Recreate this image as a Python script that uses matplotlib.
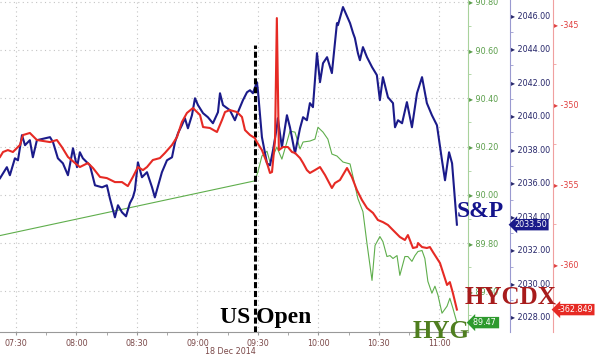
import matplotlib
matplotlib.use("Agg")
import matplotlib.pyplot as plt
from matplotlib.ticker import MultipleLocator, FuncFormatter
import matplotlib.transforms as mtransforms

# minutes after 07:30 on 18 Dec 2014
spx_t = [-7.9, -4.5, -3.0, -0.5, 1.0, 3.0, 4.5, 6.9, 8.4, 10.4,
         16.9, 18.4, 20.8, 23.3, 25.8, 28.3, 30.3, 31.7, 33.2, 36.7,
         39.2, 42.7, 45.1, 46.6, 49.1, 50.6, 52.6, 54.6, 56.5, 58.0,
         59.0, 60.5, 62.5, 65.0, 67.5, 68.9, 72.4, 74.9, 77.4, 78.9,
         80.4, 82.3, 83.8, 85.3, 87.3, 88.8, 90.3, 92.8, 95.2, 97.7,
         100.2, 101.2, 102.7, 106.1, 108.6, 110.1, 112.6, 114.6, 116.1, 117.5,
         119.5, 120.0, 122.0, 124.5, 126.0, 127.5, 129.4, 129.9, 131.9, 134.4,
         135.9, 138.4, 140.9, 142.4, 144.3, 145.8, 147.3, 149.3, 150.8, 152.3,
         154.3, 156.7, 159.2, 159.7, 162.2, 165.7, 167.2, 168.1, 169.6, 170.6,
         172.1, 174.1, 176.6, 179.0, 180.5, 182.0, 184.5, 187.0, 188.0, 189.5,
         191.5, 193.9, 196.4, 198.9, 201.4, 203.8, 206.3, 208.8, 211.3, 212.8,
         214.8, 216.3, 218.7]
spx_v = [2036.27, 2036.93, 2036.45, 2037.46, 2037.34, 2038.84, 2038.24, 2038.54, 2037.52, 2038.54,
         2038.72, 2038.42, 2037.46, 2037.16, 2036.45, 2038.06, 2036.93, 2037.82, 2037.46, 2037.04,
         2035.85, 2035.73, 2035.85, 2035.07, 2033.94, 2034.66, 2034.24, 2034.00, 2034.78, 2035.13,
         2035.55, 2037.22, 2036.33, 2036.63, 2035.73, 2035.13, 2036.63, 2037.34, 2037.52, 2038.42,
         2038.96, 2039.43, 2039.85, 2039.25, 2040.03, 2041.04, 2040.63, 2040.15, 2039.91, 2039.55,
         2040.21, 2041.34, 2040.63, 2040.33, 2039.73, 2040.21, 2040.93, 2041.40, 2041.52, 2041.34,
         2042.00, 2041.52, 2038.72, 2037.16, 2037.04, 2037.94, 2039.31, 2039.85, 2038.12, 2040.03,
         2039.31, 2037.76, 2039.25, 2039.91, 2039.73, 2040.75, 2040.51, 2043.73, 2042.00, 2043.13,
         2043.49, 2042.54, 2045.52, 2045.40, 2046.48, 2045.52, 2044.93, 2044.63, 2043.73, 2043.31,
         2044.09, 2043.49, 2042.90, 2042.42, 2040.93, 2042.30, 2041.10, 2040.75, 2039.31, 2039.73,
         2039.55, 2040.81, 2039.31, 2041.34, 2042.30, 2040.75, 2040.03, 2039.43, 2037.34, 2036.15,
         2037.82, 2037.16, 2033.50]

cdx_t = [-7.9, -6.4, -4.0, -1.5, 2.0, 3.5, 6.9, 10.4, 16.9, 20.3,
         22.8, 25.8, 29.3, 31.7, 35.7, 38.2, 41.7, 45.1, 49.1, 52.6,
         55.5, 58.0, 60.5, 63.0, 65.0, 67.9, 71.4, 73.9, 77.4, 79.9,
         82.3, 84.8, 87.8, 91.3, 92.8, 96.2, 99.7, 102.2, 103.7, 106.1,
         109.6, 112.1, 113.6, 116.1, 118.5, 119.5, 122.0, 124.5, 126.0, 127.0,
         128.5, 129.4, 130.4, 132.4, 134.9, 136.9, 138.4, 140.9, 142.4, 144.3,
         145.8, 148.3, 150.8, 153.3, 156.7, 158.2, 160.7, 164.2, 166.6, 169.1,
         171.6, 174.1, 177.1, 179.5, 182.0, 184.5, 187.0, 190.4, 192.9, 194.4,
         196.9, 198.9, 199.4, 201.4, 203.8, 205.3, 206.8, 210.3, 213.8, 215.2,
         216.7, 218.7]
cdx_v = [-353.31, -353.00, -352.88, -353.00, -352.56, -351.94, -351.81, -352.25, -352.38, -352.25,
         -352.69, -353.31, -353.69, -353.94, -353.69, -354.00, -354.56, -354.63, -354.88, -354.88,
         -355.13, -354.56, -353.94, -354.13, -353.94, -353.50, -353.38, -353.06, -352.56, -352.06,
         -351.13, -350.56, -350.25, -350.69, -351.44, -351.50, -351.75, -351.00, -350.50, -350.38,
         -350.50, -350.81, -351.63, -351.94, -352.13, -352.38, -352.88, -353.69, -354.31, -354.25,
         -352.25, -344.63, -352.88, -352.69, -352.69, -353.00, -353.06, -353.38, -353.69, -354.13,
         -354.31, -354.13, -353.94, -354.44, -355.25, -354.94, -354.75, -354.00, -354.56, -355.38,
         -356.00, -356.50, -356.81, -357.25, -357.38, -357.56, -357.88, -358.31, -358.50, -358.19,
         -359.00, -358.94, -358.69, -358.94, -359.00, -358.94, -359.25, -359.94, -361.31, -361.13,
         -361.81, -362.849]

hyg_t = [-7.9, 118.5, 120.0, 122.0, 124.5, 126.0, 127.5, 129.4, 131.9, 134.4,
         135.9, 138.4, 140.9, 142.4, 145.8, 148.3, 149.8, 152.3, 154.7, 156.7,
         159.2, 162.2, 165.7, 167.2, 169.6, 172.1, 174.1, 176.6, 178.1, 180.5,
         182.0, 184.0, 185.5, 187.0, 189.0, 190.4, 192.9, 194.4, 196.4, 197.9,
         199.4, 201.4, 202.8, 204.3, 206.3, 207.8, 209.3, 211.3, 213.8, 215.2,
         216.7, 218.7]
hyg_v = [89.831, 90.058, 90.095, 90.161, 90.181, 90.136, 90.161, 90.198, 90.148, 90.219,
         90.264, 90.260, 90.190, 90.219, 90.223, 90.231, 90.280, 90.260, 90.231, 90.169,
         90.161, 90.136, 90.128, 90.074, 89.984, 89.930, 89.798, 89.645, 89.790, 89.827,
         89.806, 89.744, 89.748, 89.736, 89.748, 89.666, 89.744, 89.744, 89.724, 89.748,
         89.765, 89.769, 89.736, 89.641, 89.592, 89.621, 89.584, 89.509, 89.538, 89.571,
         89.530, 89.470]

tick_pos = [0, 30, 60, 90, 120, 150, 180, 210]
tick_labels = ["07:30", "08:00", "08:30", "09:00", "09:30", "10:00", "10:30", "11:00"]
us_open_t = 118.5

assert len(spx_t) == len(spx_v) and len(cdx_t) == len(cdx_v) and len(hyg_t) == len(hyg_v)

c_spx = "#1b1b8a"
c_cdx = "#e62a24"
c_hyg = "#5fae4c"
c_axis = "#7a4848"
serif = "Liberation Serif"

fig = plt.figure(figsize=(6.0, 3.57), dpi=100)
ax = fig.add_axes([0.0, 0.07, 0.78, 0.93])
ax_spx = ax.twinx()
ax_cdx = ax.twinx()

# Lines
ax.plot(hyg_t, hyg_v, color=c_hyg, linewidth=0.8, zorder=2)
ax_cdx.plot(cdx_t, cdx_v, color=c_cdx, linewidth=1.5, zorder=3)
ax_spx.plot(spx_t, spx_v, color=c_spx, linewidth=1.5, zorder=4)
ax_spx.axvline(us_open_t, ymax=0.865, color="black", linestyle=(0, (2.0, 0.9)), linewidth=2.2, zorder=5)

ax.set_xlim(-7.9, 224.2)
ax.set_ylim(89.431, 90.808)
ax_spx.set_ylim(2027.1, 2046.9)
ax_cdx.set_ylim(-364.25, -343.5)

# x axis
ax.set_xticks(tick_pos)
ax.set_xticklabels(tick_labels)
ax.xaxis.set_minor_locator(MultipleLocator(15))
ax.tick_params(axis="x", which="both", length=2, color="#999999", labelsize=5.8,
               labelcolor=c_axis, pad=3)
ax.grid(True, which="major", color="#c4c4c4", linestyle=(0, (1, 3)), linewidth=0.8)
fig.text(230 / 600, 1 - 351 / 357, "18 Dec 2014", fontsize=5.8, color=c_axis, ha="center", va="center")

# right axes
for a in (ax, ax_spx, ax_cdx):
    a.spines["left"].set_visible(False)
    a.spines["top"].set_visible(False)
ax.spines["bottom"].set_color("#999999")
ax_spx.spines["bottom"].set_visible(False)
ax_cdx.spines["bottom"].set_visible(False)

ax.yaxis.tick_right()
ax_spx.spines["right"].set_position(("axes", 1.0897))
ax_cdx.spines["right"].set_position(("axes", 1.1816))

axis_setup = [
    (ax, "#5a9e4a", "#a8d29c", 0.2, 0.1, "{:.2f}"),
    (ax_spx, "#26266a", "#9a9ad0", 2, 1, "{:.2f}"),
    (ax_cdx, "#e04040", "#f0a0a0", 5, 2.5, "{:.0f}"),
]
for a, tc, sc, major, minor, fmt in axis_setup:
    a.spines["right"].set_color(sc)
    a.spines["right"].set_linewidth(0.8)
    a.yaxis.set_major_locator(MultipleLocator(major))
    a.yaxis.set_minor_locator(MultipleLocator(minor))
    a.yaxis.set_major_formatter(FuncFormatter(lambda v, p, fmt=fmt: "\u25b8 " + fmt.format(v)))
    a.tick_params(axis="y", which="major", length=0, pad=0.5, labelsize=5.8, labelcolor=tc)
    a.tick_params(axis="y", which="minor", length=2, color=sc, direction="out")

# last value boxes
box_style = "larrow,pad=0.15"
for a, xpos, val, text, fc in [(ax, 1.0, hyg_v[-1], "89.47 ", "#2e9a2e"),
                               (ax_spx, 1.0897, spx_v[-1], "2033.50", c_spx),
                               (ax_cdx, 1.1816, cdx_v[-1], "-362.849", "#e62a24")]:
    trans = mtransforms.blended_transform_factory(a.transAxes, a.transData)
    a.text(xpos + 0.01, val, text, transform=trans, fontsize=5.8, color="white",
           ha="left", va="center", zorder=10,
           bbox=dict(boxstyle=box_style, fc=fc, ec="none"))

# big labels
fig.text(220 / 600, 1 - 323 / 357, "US Open", fontsize=17, fontweight="bold",
         family=serif, color="black", va="baseline", zorder=1)
fig.text(457 / 600, 1 - 217 / 357, "S&P", fontsize=17, fontweight="bold",
         family=serif, color="#14148c", va="baseline")
fig.text(465 / 600, 1 - 304 / 357, "HYCDX", fontsize=18, fontweight="bold",
         family=serif, color="#a81c1c", va="baseline")
fig.text(413 / 600, 1 - 338 / 357, "HYG", fontsize=18, fontweight="bold",
         family=serif, color="#4f7e1f", va="baseline")

fig.savefig("out.png", dpi=100)
plt.close()
